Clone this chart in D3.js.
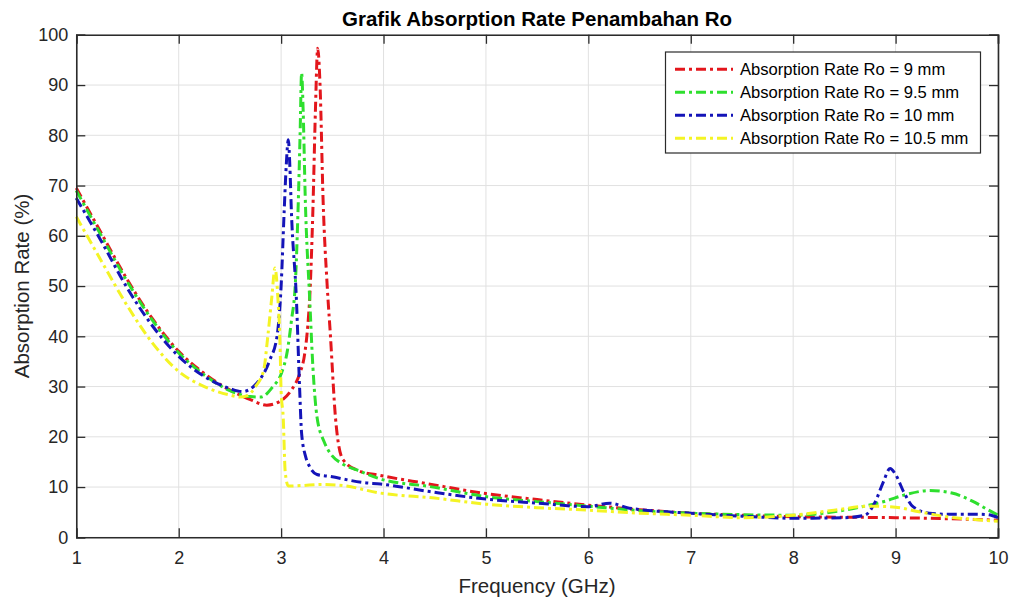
<!DOCTYPE html>
<html>
<head>
<meta charset="utf-8">
<script src="https://cdn.jsdelivr.net/npm/d3@7"></script>
<style>
  html, body { margin: 0; padding: 0; background: #ffffff; }
  svg { display: block; font-family: "Liberation Sans", Arial, Helvetica, sans-serif; }
</style>
</head>
<body>
<svg id="chart" width="1014" height="599"></svg>
<script>
// Absorption rate (%) versus frequency (GHz) for four outer radii Ro
const freq9   = [1, 1.25, 1.5, 1.75, 2, 2.25, 2.5, 2.7, 2.86, 3.0, 3.1, 3.18, 3.23, 3.26, 3.28, 3.31, 3.335, 3.357, 3.38, 3.41, 3.45, 3.48, 3.53, 3.6, 3.75, 3.97, 4.42, 5, 5.5, 6, 6.5, 7, 7.5, 8, 8.5, 9, 9.5, 10];
const rate9   = [69.5, 60.3, 51.2, 43.3, 37, 32.6, 29.3, 27.4, 26.3, 27.2, 29.3, 32.5, 36.5, 42, 48, 65, 85, 97.3, 90, 67, 50, 40.6, 24, 15.6, 13.3, 12.3, 10.7, 8.7, 7.5, 6.4, 5.5, 4.8, 4.4, 4.1, 4.0, 3.9, 3.7, 3.4];

const freq95  = [1, 1.25, 1.5, 1.75, 2, 2.25, 2.5, 2.7, 2.8, 2.92, 3.0, 3.06, 3.10, 3.14, 3.165, 3.185, 3.20, 3.215, 3.235, 3.28, 3.31, 3.35, 3.42, 3.48, 3.6, 3.74, 3.97, 4.45, 5, 5.5, 6, 6.5, 7, 7.5, 8, 8.3, 8.6, 8.9, 9.1, 9.33, 9.55, 9.75, 9.9, 10];
const rate95  = [69, 59.8, 50.8, 43, 36.7, 32.3, 29.2, 28.0, 27.9, 30, 32.5, 37, 43, 51, 65, 80, 92.4, 85, 68, 47, 34, 24, 19, 16.7, 14.6, 13.4, 11.6, 10.1, 8.1, 7.1, 6.2, 5.3, 4.8, 4.5, 4.4, 4.8, 5.8, 7.2, 8.5, 9.3, 8.8, 7.2, 5.5, 4.4];

const freq10  = [1, 1.25, 1.5, 1.75, 2, 2.25, 2.5, 2.62, 2.76, 2.89, 2.96, 3.0, 3.03, 3.05, 3.07, 3.085, 3.10, 3.15, 3.18, 3.20, 3.24, 3.28, 3.35, 3.48, 3.8, 3.97, 4.45, 5, 5.5, 6, 6.21, 6.4, 7, 7.5, 8, 8.5, 8.7, 8.8, 8.88, 8.946, 9.0, 9.08, 9.17, 9.33, 9.5, 9.8, 9.9, 10];
const rate10  = [67.5, 58.7, 49.5, 41.9, 36, 32, 29.6, 29, 30.6, 35.3, 40, 50, 65, 74, 79.1, 74, 65, 47, 30, 20.7, 16, 14, 12.5, 12.1, 10.9, 10.6, 9.1, 7.6, 6.8, 6.1, 6.8, 5.8, 4.8, 4.2, 3.8, 3.9, 4.4, 7, 11, 13.7, 12.5, 9, 6.1, 4.8, 4.6, 4.6, 4.5, 3.9];

const freq105 = [1, 1.25, 1.5, 1.75, 2, 2.25, 2.5, 2.6, 2.67, 2.75, 2.83, 2.87, 2.91, 2.94, 2.97, 2.99, 3.0, 3.02, 3.04, 3.07, 3.2, 3.4, 3.6, 3.97, 4.5, 5, 5.5, 6, 6.5, 7, 7.5, 8, 8.4, 8.75, 9.0, 9.2, 9.5, 9.8, 10];
const rate105 = [63.8, 54.8, 46, 38.5, 33, 30, 28.3, 27.9, 28.2, 30, 33.3, 40, 48, 53.6, 47, 38, 29, 24, 13, 10.2, 10.3, 10.5, 10.3, 8.8, 7.8, 6.6, 5.9, 5.4, 4.8, 4.4, 3.9, 4.4, 5.4, 6.2, 6.0, 5.2, 4.1, 3.5, 3.2];

const seriesNames  = ["Absorption Rate Ro = 9 mm", "Absorption Rate Ro = 9.5 mm", "Absorption Rate Ro = 10 mm", "Absorption Rate Ro = 10.5 mm"];
const seriesColors = ["#e3161c", "#2edf2e", "#1414b8", "#f4f424"];
const xTicks = [1, 2, 3, 4, 5, 6, 7, 8, 9, 10];
const yTicks = [0, 10, 20, 30, 40, 50, 60, 70, 80, 90, 100];

const series = [
  { name: seriesNames[0], color: seriesColors[0], x: freq9,   y: rate9 },
  { name: seriesNames[1], color: seriesColors[1], x: freq95,  y: rate95 },
  { name: seriesNames[2], color: seriesColors[2], x: freq10,  y: rate10 },
  { name: seriesNames[3], color: seriesColors[3], x: freq105, y: rate105 }
];

const svg = d3.select("#chart");
const plotLeft = 76.3, plotRight = 998, plotTop = 34.8, plotBottom = 537.3;

const x = d3.scaleLinear().domain([1, 10]).range([plotLeft, plotRight]);
const y = d3.scaleLinear().domain([0, 100]).range([plotBottom, plotTop]);

const axisColor = "#2b2b2b";
const textColor = "#262626";

// grid
const grid = svg.append("g");
grid.selectAll(".gx").data(xTicks).enter().append("line")
  .attr("x1", d => x(d)).attr("x2", d => x(d))
  .attr("y1", plotTop).attr("y2", plotBottom)
  .attr("stroke", "#e1e1e1").attr("stroke-width", 1);
grid.selectAll(".gy").data(yTicks).enter().append("line")
  .attr("x1", plotLeft).attr("x2", plotRight)
  .attr("y1", d => y(d)).attr("y2", d => y(d))
  .attr("stroke", "#e1e1e1").attr("stroke-width", 1);

// axes with inward ticks on all four sides
const tickLen = 9;
const fontTick = 18;
const axB = d3.axisBottom(x).tickValues(xTicks).tickSize(-tickLen).tickPadding(14).tickFormat(d3.format("d"));
const axT = d3.axisTop(x).tickValues(xTicks).tickSize(-tickLen).tickFormat("");
const axL = d3.axisLeft(y).tickValues(yTicks).tickSize(-tickLen).tickPadding(8).tickFormat(d3.format("d"));
const axR = d3.axisRight(y).tickValues(yTicks).tickSize(-tickLen).tickFormat("");

function styleAxis(g) {
  g.select(".domain").attr("stroke", axisColor).attr("stroke-width", 1.6);
  g.selectAll(".tick line").attr("stroke", axisColor).attr("stroke-width", 1.3);
  g.selectAll(".tick text").attr("fill", textColor)
    .style("font-size", fontTick + "px")
    .style("font-family", "'Liberation Sans', Arial, sans-serif");
}

// curves
const line = d3.line().curve(d3.curveMonotoneX);
const plot = svg.append("g");
series.forEach(s => {
  const pts = s.x.map((fx, i) => [x(fx), y(s.y[i])]);
  plot.append("path")
    .attr("d", line(pts))
    .attr("fill", "none")
    .attr("stroke", s.color)
    .attr("stroke-width", 3)
    .attr("stroke-dasharray", "10,4,3,4")
    .attr("stroke-linejoin", "round");
});

svg.append("g").attr("transform", `translate(0,${plotBottom})`).call(axB).call(styleAxis);
svg.append("g").attr("transform", `translate(0,${plotTop})`).call(axT).call(styleAxis);
svg.append("g").attr("transform", `translate(${plotLeft},0)`).call(axL).call(styleAxis);
svg.append("g").attr("transform", `translate(${plotRight},0)`).call(axR).call(styleAxis);

// title and axis labels
svg.append("text")
  .attr("x", 537).attr("y", 26)
  .attr("text-anchor", "middle")
  .style("font-size", "20.5px").style("font-weight", "bold")
  .attr("fill", "#000")
  .text("Grafik Absorption Rate Penambahan Ro");

svg.append("text")
  .attr("x", 537).attr("y", 593)
  .attr("text-anchor", "middle")
  .style("font-size", "20.5px")
  .attr("fill", textColor)
  .text("Frequency (GHz)");

svg.append("text")
  .attr("transform", "translate(29,286) rotate(-90)")
  .attr("text-anchor", "middle")
  .style("font-size", "20.5px")
  .attr("fill", textColor)
  .text("Absorption Rate (%)");

// legend
const lg = svg.append("g");
lg.append("rect")
  .attr("x", 665.5).attr("y", 52).attr("width", 315).attr("height", 101)
  .attr("fill", "#ffffff").attr("stroke", axisColor).attr("stroke-width", 1.2);
series.forEach((s, i) => {
  const cy = 69.3 + 23 * i;
  lg.append("line")
    .attr("x1", 675).attr("x2", 733).attr("y1", cy).attr("y2", cy)
    .attr("stroke", s.color).attr("stroke-width", 3)
    .attr("stroke-dasharray", "10,4,3,4");
  lg.append("text")
    .attr("x", 740).attr("y", cy + 6)
    .style("font-size", "16.6px")
    .attr("fill", "#000")
    .text(s.name);
});
</script>
</body>
</html>
